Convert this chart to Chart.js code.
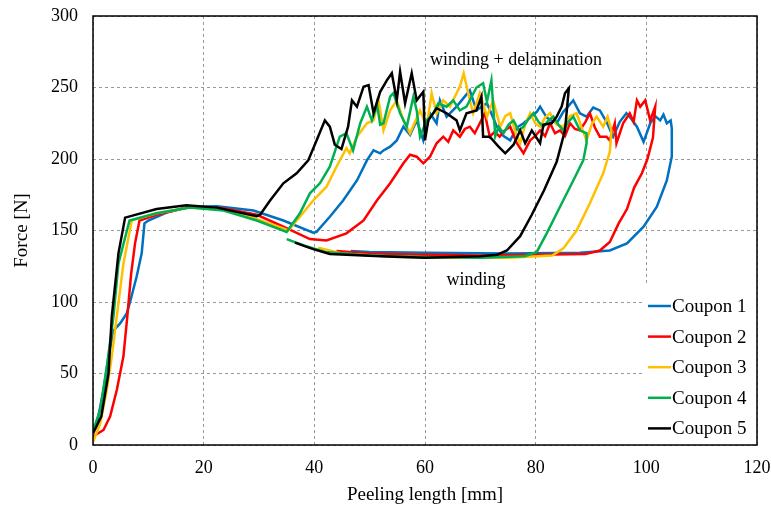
<!DOCTYPE html>
<html>
<head>
<meta charset="utf-8">
<script src="https://cdn.jsdelivr.net/npm/chart.js@4/dist/chart.umd.min.js"></script>
<style>
  html, body { margin: 0; padding: 0; background: #fff; }
  #wrap { width: 771px; height: 509px; }
</style>
</head>
<body>
<div id="wrap"><canvas id="chart" width="771" height="509"></canvas></div>
<script>
// tick values
const xTicks = [0, 20, 40, 60, 80, 100, 120];
const yTicks = [0, 50, 100, 150, 200, 250, 300];

// Coupon 1 (blue)
const c1X = [0, 0.7, 1.9, 2.8, 3.7, 4.9, 6.1, 6.7, 7.9, 8.8, 9.3, 10, 13.3, 17.5, 22.4, 29, 34.4, 39.8, 40.4, 42.8, 45.2, 47.7, 49.5, 50.7, 51.9, 52.5, 53.7, 54.9, 56.1, 57.3, 58.5, 59.7, 60.9, 62.1, 62.7, 63.9, 65.7, 68.1, 69.3, 71.2, 73, 74.2, 75.4, 76.6, 77.8, 79, 80.2, 80.8, 82, 83.8, 85, 86.8, 88, 89.2, 90.4, 91.6, 92.8, 94, 95.2, 96.4, 97.3, 98.3, 99.5, 100.7, 101.6, 102.5, 103.1, 103.7, 104.4, 104.6, 104.6, 103.7, 101.9, 99.5, 96.5, 93.4, 88, 75, 60, 50, 46.6];
const c1Y = [11.6, 15, 38.5, 62, 80, 85, 92, 100, 118, 134, 155, 157, 162.5, 166.5, 167, 164, 157, 148.5, 149, 159.6, 171, 185, 199, 206, 204, 206, 208.6, 213, 222.6, 216.8, 227, 213, 232, 225, 241, 229.6, 236.6, 248, 234, 239, 222.6, 216, 213, 222, 225, 229, 233, 236.6, 229, 225, 233, 241, 232, 229.6, 236, 234, 226, 215.6, 226, 232, 228, 222.6, 212, 225, 230, 227, 231, 225, 227, 221.5, 201.6, 185, 166.6, 152.7, 141, 136, 134.5, 134, 134.5, 135, 135.6];

// Coupon 2 (red)
const c2X = [0, 1.9, 3.1, 4.3, 5.5, 6.2, 6.9, 7.6, 8.4, 11.5, 17.5, 23.6, 29.6, 34.4, 39.2, 42.2, 45.8, 48.9, 51.3, 53.7, 56.1, 57.3, 58.5, 59.7, 60.9, 62.1, 63.3, 64.2, 65.1, 66.3, 67.2, 68.1, 69, 69.9, 70.8, 71.7, 72.6, 73.5, 74.4, 75.4, 76.6, 77.8, 79, 79.9, 80.8, 81.7, 82.6, 83.5, 84.4, 85.3, 86.2, 87.1, 88, 89, 89.8, 90.7, 91.6, 92.8, 93.4, 94.3, 94.6, 95.8, 97, 97.7, 98.3, 98.9, 99.8, 100.7, 101.6, 101.2, 100.2, 99.2, 97.8, 96.5, 95, 93.4, 91.6, 89, 80, 70, 60, 50, 44];
const c2Y = [6, 10.5, 20, 38.5, 62, 90, 120, 141, 157, 161, 166.6, 165.5, 161, 152.7, 144, 143, 148, 157, 171, 183, 197, 203, 201.6, 197, 201.6, 211, 215.6, 212, 220, 215.6, 221, 222.6, 218, 225, 232, 215.6, 219, 215.6, 220, 222.6, 211, 204, 213, 216, 220, 216, 225, 218, 220, 216, 225, 221, 220, 226, 232, 222, 215.6, 215.6, 213, 225, 211, 225, 232, 226, 241, 236.6, 241, 227, 236.6, 215, 200, 190, 180, 165, 155, 142, 136, 133.5, 133, 132.5, 133, 134, 135.6];

// Coupon 3 (yellow)
const c3X = [0, 1.3, 2.5, 3.4, 4.3, 5.5, 7, 11.5, 17.5, 23.6, 28.4, 34.4, 35.3, 37.4, 39.8, 42.2, 44, 45.8, 46.4, 47.7, 49.5, 50.7, 51.6, 52.5, 53.7, 54.9, 56.1, 57.3, 59.1, 60.3, 61.2, 62.1, 63.3, 64.5, 66.3, 67, 67.8, 68.7, 69.9, 71.2, 72.3, 73.6, 74.5, 75.4, 76.3, 77.2, 78.1, 79, 79.9, 80.8, 81.7, 82.6, 83.8, 85, 86.2, 87.4, 88.3, 89.2, 90.1, 91, 92.2, 93, 93.7, 93.4, 92.2, 89.8, 87.4, 85, 83, 75, 65, 55, 45, 40.7];
const c3Y = [2, 15, 38.5, 62, 90, 127, 157, 162, 166, 164.5, 159.6, 151.5, 150, 159.6, 171, 180.6, 194.6, 207.5, 204, 215.6, 225, 227, 241, 220, 234, 241, 227, 218, 234, 222.6, 246, 232, 241, 236.6, 250.6, 260, 246, 232, 246, 229.6, 241, 222.6, 230, 232, 219, 211, 224, 232, 225, 222.6, 229, 232, 224, 222.6, 230, 232, 222, 213, 224, 229.6, 222.6, 229.6, 220, 205, 190, 169, 150, 137.5, 132.5, 131, 131, 131.5, 134, 138];

// Coupon 4 (green)
const c4X = [0, 1.3, 2.5, 3.7, 4.6, 6.6, 11.5, 17.5, 23.6, 29.6, 35, 37.4, 39.2, 41, 42.8, 44.6, 45.8, 47, 48.3, 49.5, 50.4, 51, 51.3, 51.9, 52.5, 53.7, 54.3, 55.5, 56.7, 57.9, 58.5, 59.1, 60.3, 61.5, 62.4, 63.9, 65.1, 66.3, 67.5, 69.3, 70.5, 71.2, 72, 72.7, 73.3, 74.2, 75.1, 76, 76.9, 77.8, 78.7, 79.6, 80.5, 81.4, 82.3, 83.2, 84.1, 85, 85.9, 86.8, 88, 89.2, 89.2, 88.6, 86.8, 84.4, 82, 80.2, 78, 70, 60, 50, 42, 38.5, 35];
const c4Y = [10, 24.5, 55, 90, 127, 157, 162, 166, 164, 157, 149, 162, 176, 183, 194.6, 215.6, 218, 206, 225, 236.6, 227, 234, 239, 224, 225, 243.6, 246, 232, 222.6, 243.6, 234, 215.6, 227, 232, 239, 236.6, 241, 234, 236.6, 250, 253, 240, 255, 216, 222.6, 218, 224, 227, 220, 222.6, 228, 232, 226, 222.6, 227, 229.6, 224, 220, 226, 229.6, 220, 218, 211, 199, 185, 166.6, 148, 135, 132, 131, 131.5, 132.5, 135, 139, 144];

// Coupon 5 (black)
const c5X = [0, 1.5, 2.8, 3.4, 4.6, 5.8, 11.5, 16.9, 22.4, 29.6, 30.2, 32, 34.4, 36.8, 38.9, 40.4, 41.9, 42.8, 43.7, 44.9, 46.1, 46.8, 47.7, 48.9, 49.8, 50.7, 51.9, 53.1, 54, 54.9, 55.5, 56.4, 57.6, 58.5, 59.7, 60, 60.6, 62.1, 63.9, 65.7, 66.3, 67.5, 69.3, 70.2, 70.5, 71.7, 73.3, 74.5, 76, 77.2, 78.1, 79.3, 80.8, 81.4, 82.9, 83.8, 84.7, 85.3, 86, 85.3, 83.8, 81.5, 79.3, 77.2, 74.8, 73, 70, 60, 52, 42.8, 39.8, 36.5];
const c5Y = [8, 20, 50, 90, 134, 159, 165, 167.6, 166, 160, 161, 171, 183, 190, 199, 213, 227, 222.6, 210, 207, 222.6, 241, 236.6, 250.6, 251.7, 232, 247, 255, 260, 241, 261, 239, 260, 241, 247, 213, 227, 235.5, 232, 227, 220, 232, 234, 243.6, 215.6, 215.6, 208.6, 204, 210, 220, 211, 220, 211, 224, 225, 229.6, 236.6, 246, 249.5, 220, 198, 178, 161, 146, 136, 133, 132, 131, 132, 133.6, 137, 141.5];

const seriesNames = ['Coupon 1', 'Coupon 2', 'Coupon 3', 'Coupon 4', 'Coupon 5'];
const seriesColors = ['#0070C0', '#FF0000', '#FFC000', '#00B050', '#000000'];
const seriesX = [c1X, c2X, c3X, c4X, c5X];
const seriesY = [c1Y, c2Y, c3Y, c4Y, c5Y];

const FONT = 'Liberation Serif, Times New Roman, serif';

const datasets = seriesNames.map((name, i) => ({
	label: name,
	data: seriesX[i].map((x, k) => ({ x: x, y: seriesY[i][k] })),
	showLine: true,
	borderColor: seriesColors[i],
	backgroundColor: seriesColors[i],
	borderWidth: 2.5,
	pointRadius: 0,
	tension: 0,
	order: 4 - i // black on top
}));

// legend box, notes and the frame, drawn over the plot
const overlayPlugin = {
	id: 'overlay',
	afterDatasetsDraw(chart) {
		const ctx = chart.ctx;
		const area = chart.chartArea;
		const xs = chart.scales.x;
		const ys = chart.scales.y;
		ctx.save();

		// legend
		ctx.fillStyle = '#fff';
		ctx.fillRect(645, 285, area.right - 645 - 1, area.bottom - 285 - 1);
		ctx.font = '19px ' + FONT;
		ctx.textBaseline = 'middle';
		ctx.textAlign = 'left';
		seriesNames.forEach((name, i) => {
			const y = 306 + i * 30.6;
			ctx.strokeStyle = seriesColors[i];
			ctx.lineWidth = 2.5;
			ctx.beginPath();
			ctx.moveTo(648, y);
			ctx.lineTo(671, y);
			ctx.stroke();
			ctx.fillStyle = '#000';
			ctx.fillText(name, 672, y + 1);
		});

		// notes
		ctx.font = '18px ' + FONT;
		ctx.fillStyle = '#000';
		ctx.fillText('winding + delamination', xs.getPixelForValue(60.9), ys.getPixelForValue(269));
		ctx.fillText('winding', xs.getPixelForValue(63.9), ys.getPixelForValue(115));

		// frame
		ctx.strokeStyle = '#000';
		ctx.lineWidth = 1.5;
		ctx.strokeRect(area.left, area.top, area.right - area.left, area.bottom - area.top);
		ctx.restore();
	}
};

const chart = new Chart(document.getElementById('chart'), {
	type: 'scatter',
	data: { datasets: datasets },
	options: {
		responsive: false,
		animation: false,
		layout: { padding: { left: 0, right: 14, top: 16, bottom: 0 } },
		plugins: {
			legend: { display: false },
			tooltip: { enabled: false }
		},
		scales: {
			x: {
				type: 'linear',
				min: 0,
				max: 120,
				afterFit: (scale) => {
					scale.height = 64;
					scale.paddingLeft = 0;
					scale.paddingRight = 0;
				},
				afterBuildTicks: (scale) => { scale.ticks = xTicks.map(v => ({ value: v })); },
				ticks: {
					padding: 12,
					color: '#000',
					font: { family: FONT, size: 18 }
				},
				grid: { color: '#999', lineWidth: 1, drawTicks: false },
				border: { display: false, dash: [3, 3] },
				title: {
					display: true,
					text: 'Peeling length [mm]',
					color: '#000',
					font: { family: FONT, size: 19 },
					padding: { top: 0, bottom: 3 }
				}
			},
			y: {
				type: 'linear',
				min: 0,
				max: 300,
				afterFit: (scale) => {
					scale.width = 93;
					scale.paddingTop = 0;
					scale.paddingBottom = 0;
				},
				afterBuildTicks: (scale) => { scale.ticks = yTicks.map(v => ({ value: v })); },
				ticks: {
					padding: 15,
					color: '#000',
					font: { family: FONT, size: 18 }
				},
				grid: { color: '#999', lineWidth: 1, drawTicks: false },
				border: { display: false, dash: [3, 3] },
				title: {
					display: true,
					text: 'Force [N]',
					color: '#000',
					font: { family: FONT, size: 19 },
					padding: { top: 11, bottom: 0 }
				}
			}
		}
	},
	plugins: [overlayPlugin]
});
</script>
</body>
</html>
